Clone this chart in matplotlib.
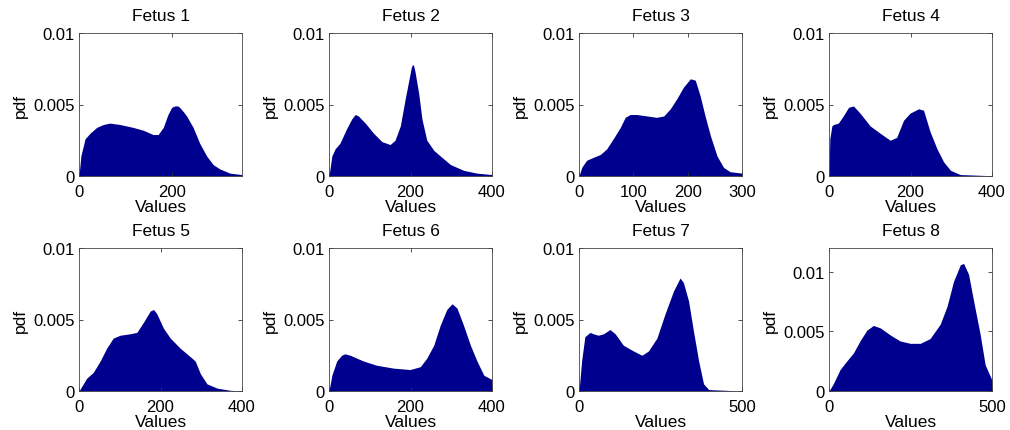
import matplotlib
matplotlib.use("Agg")
import matplotlib.pyplot as plt

plt.rcParams['font.family'] = ['Liberation Sans', 'DejaVu Sans']

titles = ["Fetus 1", "Fetus 2", "Fetus 3", "Fetus 4",
          "Fetus 5", "Fetus 6", "Fetus 7", "Fetus 8"]

f1_x = [0, 4, 13, 24, 38, 52, 66, 88, 116, 138, 159, 170, 181, 191, 199, 206, 212, 216, 224, 231, 245, 259, 274, 288, 302, 324, 349]
f1_y = [0, .0014, .0026, .0030, .0034, .0036, .0037, .0036, .0034, .0032, .0029, .0029, .0034, .0043, .0048, .0049, .0049, .0048, .0045, .0042, .0034, .0023, .0014, .0008, .0005, .0002, .0001]

f2_x = [0, 7, 15, 27, 43, 56, 64, 72, 89, 109, 130, 150, 162, 175, 187, 198, 202, 205, 208, 211, 220, 228, 240, 257, 273, 298, 330, 363, 400]
f2_y = [0, .0014, .0019, .0023, .0033, .0040, .0043, .0042, .0037, .0030, .0024, .0022, .0025, .0035, .0054, .0070, .0076, .0078, .0077, .0073, .0058, .0040, .0025, .0018, .0014, .0008, .0004, .0002, .0001]

f3_x = [0, 5, 14, 26, 39, 51, 63, 76, 85, 94, 106, 125, 143, 156, 168, 180, 192, 205, 214, 223, 232, 242, 254, 266, 278, 300]
f3_y = [0, .0006, .0011, .0013, .0015, .0019, .0026, .0034, .0041, .0043, .0043, .0042, .0041, .0042, .0047, .0054, .0062, .0068, .0067, .0056, .0042, .0028, .0014, .0006, .0003, .0002]

f4_x = [0, 2, 7, 11, 23, 35, 48, 60, 76, 101, 125, 150, 166, 183, 199, 220, 232, 248, 265, 281, 298, 322, 400]
f4_y = [0, .0026, .0035, .0036, .0037, .0042, .0048, .0049, .0044, .0035, .0030, .0025, .0027, .0039, .0044, .0047, .0046, .0031, .0019, .0010, .0004, .0001, .00002]

f5_x = [0, 19, 35, 52, 68, 84, 101, 125, 142, 158, 175, 183, 191, 207, 224, 248, 273, 285, 298, 314, 339, 371, 400]
f5_y = [0, .0009, .0013, .0021, .0030, .0037, .0039, .0040, .0041, .0048, .0056, .0057, .0054, .0044, .0037, .0030, .0024, .0021, .0012, .0005, .0002, .00005, 0]

f6_x = [0, 7, 19, 31, 39, 52, 84, 117, 158, 199, 224, 240, 257, 273, 289, 302, 314, 330, 347, 363, 380, 400]
f6_y = [0, .0011, .0021, .0025, .0026, .0025, .0021, .0018, .0016, .0015, .0017, .0023, .0032, .0046, .0057, .0061, .0058, .0046, .0032, .0021, .0011, .0008]

f7_x = [0, 8, 18, 34, 44, 59, 75, 95, 111, 136, 167, 193, 213, 239, 264, 290, 310, 320, 336, 351, 367, 382, 398, 500]
f7_y = [0, .0021, .0038, .0041, .0040, .0039, .0040, .0043, .0040, .0032, .0028, .0025, .0028, .0037, .0054, .0070, .0079, .0076, .0063, .0042, .0021, .0005, .0001, 0]

f8_x = [0, 13, 34, 54, 75, 95, 116, 136, 157, 188, 218, 249, 280, 310, 341, 362, 382, 403, 413, 428, 444, 464, 479, 500]
f8_y = [0, .0006, .0018, .0025, .0032, .0042, .0051, .0055, .0053, .0047, .0042, .0040, .0040, .0044, .0056, .0071, .0092, .0106, .0107, .0098, .0075, .0047, .0022, .0009]

series_x = [f1_x, f2_x, f3_x, f4_x, f5_x, f6_x, f7_x, f8_x]
series_y = [f1_y, f2_y, f3_y, f4_y, f5_y, f6_y, f7_y, f8_y]

x_max = [350, 400, 300, 400, 400, 400, 500, 500]
y_max = [0.01, 0.01, 0.01, 0.01, 0.01, 0.01, 0.01, 0.012]
x_ticks = [[0, 200], [0, 200, 400], [0, 100, 200, 300], [0, 200, 400],
           [0, 200, 400], [0, 200, 400], [0, 500], [0, 500]]
y_ticks = [0, 0.005, 0.01]
y_tick_labels = ["0", "0.005", "0.01"]

fill_color = '#00008f'

fig = plt.figure(figsize=(10.10, 4.31), dpi=100)
W, H = 1010, 431
lefts = [79, 329, 579, 829]
tops = [34, 249]
aw, ah = 163, 143

for i in range(8):
    r, c = divmod(i, 4)
    ax = fig.add_axes([lefts[c] / W, 1 - (tops[r] + ah) / H, aw / W, ah / H])
    ax.fill_between(series_x[i], series_y[i], 0, color=fill_color, linewidth=0)
    ax.set_xlim(0, x_max[i])
    ax.set_ylim(0, y_max[i])
    ax.set_xticks(x_ticks[i])
    ax.set_yticks(y_ticks)
    ax.set_yticklabels(y_tick_labels)
    ax.tick_params(direction='in', top=True, right=True, labelsize=12,
                   length=3, width=0.6, color='#333333')
    ax.tick_params(axis='x', pad=6)
    ax.tick_params(axis='y', pad=3)
    for s in ax.spines.values():
        s.set_linewidth(0.6)
        s.set_color('#444444')
    ax.set_title(titles[i], fontsize=12.5, pad=9)
    ax.set_xlabel("Values", fontsize=12.5, labelpad=0)
    ax.set_ylabel("pdf", fontsize=12.5, labelpad=4)

fig.savefig("out.png", dpi=100)
